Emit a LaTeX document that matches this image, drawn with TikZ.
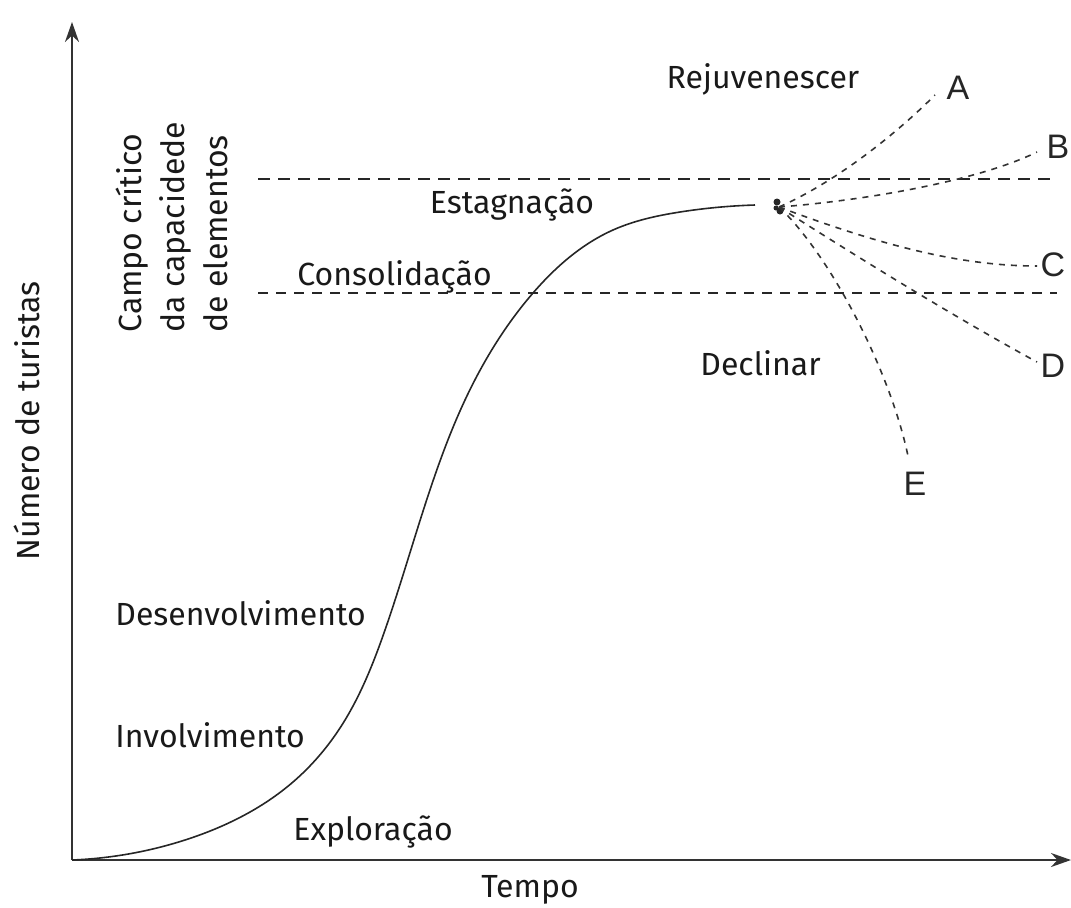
\documentclass[tikz,border=0pt]{standalone}
\usepackage{fontspec}
\setmainfont{Fira Sans}
\newfontfamily\letterfont{Liberation Sans}
\usetikzlibrary{arrows.meta,hobby}
\tikzset{
  lbl/.style={inner sep=0pt, font=\fontsize{16}{21.5}\selectfont, text=black!90},
  letter/.style={inner sep=0pt, font=\letterfont\fontsize{17}{20}\selectfont, text=black!85},
  axis/.style={line width=1pt, black!80, -{Stealth[length=10pt,width=7pt]}},
  bigdash/.style={line width=1pt, black!85, dash pattern=on 6pt off 4pt},
  smalldash/.style={line width=0.6pt, black!85, dash pattern=on 5pt off 4pt},
  fan/.style={line width=0.8pt, black!80, dash pattern=on 3pt off 3pt},
  lifecurve/.style={line width=0.8pt, black!85}
}
\begin{document}
\begin{tikzpicture}[x=0.5pt,y=-0.5pt]
\useasboundingbox (0,0) rectangle (1071,907);
% axes
\coordinate (O) at (72,860);
\coordinate (Ytip) at (72,22);
\coordinate (Xtip) at (1071,860);
\draw[axis] (O) -- (Ytip);
\draw[axis] (O) -- (Xtip);
% horizontal dashed lines
\coordinate (TopL) at (258,179);
\coordinate (TopR) at (1057,179);
\coordinate (LowL) at (258,293);
\coordinate (LowR) at (1057,293);
\draw[bigdash] (TopL) -- (TopR);
\draw[smalldash] (LowL) -- (LowR);
% life-cycle curve
\coordinate (p4) at (755,205);
\draw[lifecurve, use Hobby shortcut] (O) .. (185,840) .. (293,782)
  .. (340,728) .. (385,630) .. (425,505) .. (465,400) .. (533,293)
  .. (613,230) .. (680,212) .. (p4);
% junction blob
\coordinate (o) at (779,207);
\fill[black!85] (777,202) circle (3.5);
\fill[black!85] (780,211) circle (3.5);
\fill[black!85] (776,208) circle (2.5);
% labels A-E
\node[letter] (A) at (958,88) {A};
\node[letter] (B) at (1058,147) {B};
\node[letter] (C) at (1053,265) {C};
\node[letter] (D) at (1053,366) {D};
\node[letter] (E) at (915,484) {E};
\coordinate (eA) at (935,95);
\coordinate (eB) at (1037,152);
\coordinate (eC) at (1037,266);
\coordinate (eD) at (1037,362);
\coordinate (eE) at (908,456);
\draw[fan] (o) .. controls (840,180) and (900,130) .. (eA);
\draw[fan] (o) .. controls (870,200) and (980,180) .. (eB);
\draw[fan] (o) .. controls (880,245) and (960,266) .. (eC);
\draw[fan] (o) .. controls (870,265) and (960,320) .. (eD);
\draw[fan] (o) .. controls (830,255) and (890,370) .. (eE);
% stage labels
\node[lbl, anchor=base] (rej) at (763,88) {Rejuvenescer};
\node[lbl, anchor=base] (est) at (512,213) {Estagnação};
\node[lbl, anchor=base west] (con) at (297,285) {Consolidação};
\node[lbl, anchor=base west] (dec) at (700,375) {Declinar};
\node[lbl, anchor=base west] (des) at (115,625) {Desenvolvimento};
\node[lbl, anchor=base west] (inv) at (115,747) {Involvimento};
\node[lbl, anchor=base west] (exp) at (293,840) {Exploração};
\node[lbl, anchor=base] (tempo) at (530,897) {Tempo};
\node[lbl, rotate=90] (num) at (27,421) {Número de turistas};
\node[lbl, rotate=90, align=left, anchor=west] (campo) at (172,333)
  {Campo crítico\\da capacidede\\de elementos};
\end{tikzpicture}
\end{document}
